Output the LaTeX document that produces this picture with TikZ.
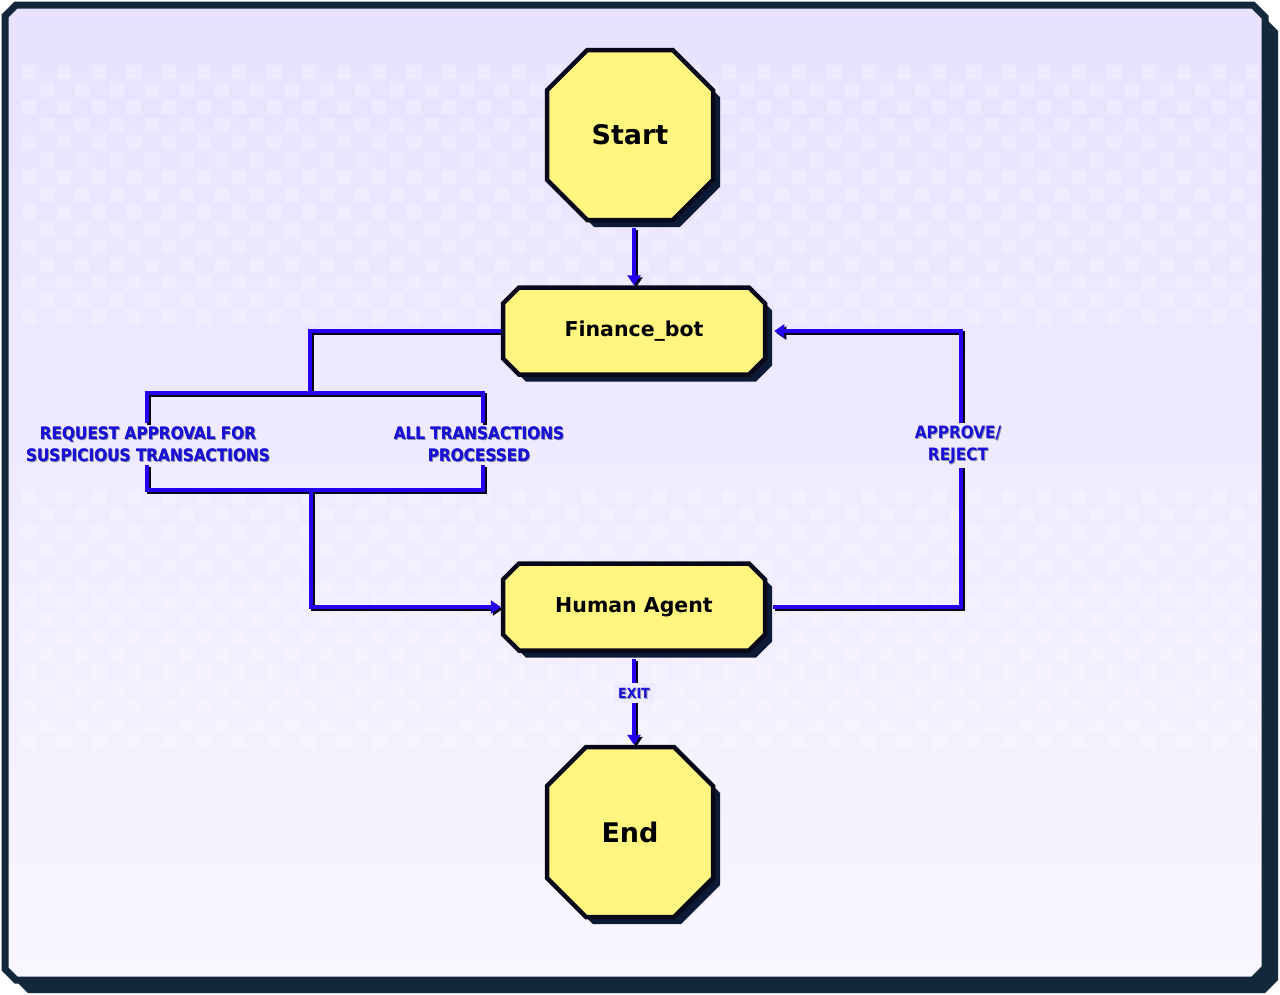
\documentclass[tikz,border=0pt]{standalone}
\usepackage{fontspec}
\setmainfont{DejaVu Sans}
\newfontfamily\condfont{DejaVu Sans Condensed}
\usetikzlibrary{shapes.misc,shadows,arrows.meta}
\definecolor{bgtop}{HTML}{E8E1FF}
\definecolor{bgbot}{HTML}{F8F6FF}
\definecolor{framec}{HTML}{13283A}
\definecolor{nodefill}{HTML}{FFF57F}
\definecolor{nodeline}{HTML}{08081A}
\definecolor{nodeshad}{HTML}{0C1A36}
\definecolor{linec}{HTML}{2400F0}
\definecolor{lblc}{HTML}{1A10D8}
\definecolor{lblbg}{HTML}{EFEBFF}
\begin{document}
\begin{tikzpicture}[x=1pt,y=-1pt,
  base/.style={chamfered rectangle, draw=nodeline, line width=4.5pt, fill=nodefill,
    drop shadow={shadow xshift=7pt, shadow yshift=-7pt, fill=nodeshad, opacity=1},
    inner sep=0pt, font=\bfseries},
  term/.style={base, minimum width=166pt, minimum height=170pt,
    chamfered rectangle xsep=30pt, chamfered rectangle ysep=30pt,
    font=\bfseries\fontsize{27}{32}\selectfont},
  proc/.style={base, minimum width=262pt, minimum height=87pt,
    chamfered rectangle xsep=8pt, chamfered rectangle ysep=8pt,
    font=\bfseries\fontsize{20.5}{24}\selectfont},
  conn/.style={draw=linec, line width=4pt,
    preaction={draw=nodeline, line width=4pt, transform canvas={shift={(2pt,-2pt)}}}},
  arr/.style={-{Triangle[width=13pt,length=10pt]}},
  lbl/.style={inner sep=3pt, text=lblc, align=center,
    font=\condfont\bfseries\fontsize{17}{22}\selectfont},
  lblsh/.style={text=framec, text opacity=0.45},
  sml/.style={lbl, inner sep=2pt, font=\condfont\bfseries\fontsize{14}{16}\selectfont}
]
\useasboundingbox (0,0) rectangle (1280,994);
% frame shadow
\fill[framec] (28,18) -- (1265,18) -- (1278,31) -- (1278,980) -- (1265,993) -- (28,993) -- (18,983) -- (18,28) -- cycle;
% frame
\shade[top color=bgtop, bottom color=bgbot]
  (16,5) -- (1253,5) -- (1265,17) -- (1265,968) -- (1253,980) -- (16,980) -- (5,969) -- (5,16) -- cycle;
% checker decoration
\begin{scope}
\clip (12,12) rectangle (1258,973);
\foreach \r in {0,...,14} {
  \foreach \c in {0,...,35} {
    \fill[white,opacity=0.25] ({22+\c*35+mod(\r,2)*17.5},{65+\r*17.5}) rectangle +(14,14);
    \fill[white,opacity=0.25] ({22+\c*35+mod(\r,2)*17.5},{490+\r*17.5}) rectangle +(14,14);
  }
}
\end{scope}
\draw[framec, line width=7pt]
  (16,5) -- (1253,5) -- (1265,17) -- (1265,968) -- (1253,980) -- (16,980) -- (5,969) -- (5,16) -- cycle;
% nodes
\node[term] (start) at (630,135) {Start};
\node[proc] (fb) at (634,331) {Finance\_bot};
\node[proc] (ha) at (634,607) {Human Agent};
\node[term] (end) at (630,832) {End};
% coordinates
\coordinate (j1) at (310,393);
\coordinate (j2) at (311,490);
\coordinate (a1) at (147,393);
\coordinate (a2) at (483,393);
\coordinate (b1) at (147,490);
\coordinate (b2) at (483,490);
\coordinate (r1) at (961,331);
% label positions
\path (148,444) node[lbl] (l1) {REQUEST APPROVAL FOR\\SUSPICIOUS TRANSACTIONS};
\path (479,444) node[lbl] (l2) {ALL TRANSACTIONS\\PROCESSED};
% connectors
\draw[conn,arr,shorten <=6pt] (start.south -| fb.north) -- (fb.north);
\draw[conn] (fb.west) -| (j1);
\draw[conn] (a1 |- l1.north) -- (a1) -- (a2) -- (a2 |- l2.north);
\draw[conn] (b1 |- l1.south) -- (b1) -- (b2) -- (b2 |- l2.south);
\draw[conn,arr] (j2) |- (ha.west);
\draw[conn,arr,shorten <=6pt,shorten >=7pt] (ha.east) -| (r1) -- (fb.east);
\draw[conn,arr,shorten <=6pt] (ha.south) -- (ha.south |- end.north);
% gaps behind the labels on the lines
\fill[lblbg] (930,423) rectangle (992,468);
\fill[lblbg] (614,683) rectangle (655,703);
% labels with shadow
\node[lbl,lblsh] at ([shift={(1pt,-1pt)}]l1) {REQUEST APPROVAL FOR\\SUSPICIOUS TRANSACTIONS};
\node[lbl] at (l1) {REQUEST APPROVAL FOR\\SUSPICIOUS TRANSACTIONS};
\node[lbl,lblsh] at ([shift={(1pt,-1pt)}]l2) {ALL TRANSACTIONS\\PROCESSED};
\node[lbl] at (l2) {ALL TRANSACTIONS\\PROCESSED};
\node[lbl,lblsh] at (959,446) {APPROVE/\\REJECT};
\node[lbl] (l3) at (958,445) {APPROVE/\\REJECT};
\node[sml,lblsh] at (635,694) {EXIT};
\node[sml] (l4) at (634,693) {EXIT};
\end{tikzpicture}
\end{document}
